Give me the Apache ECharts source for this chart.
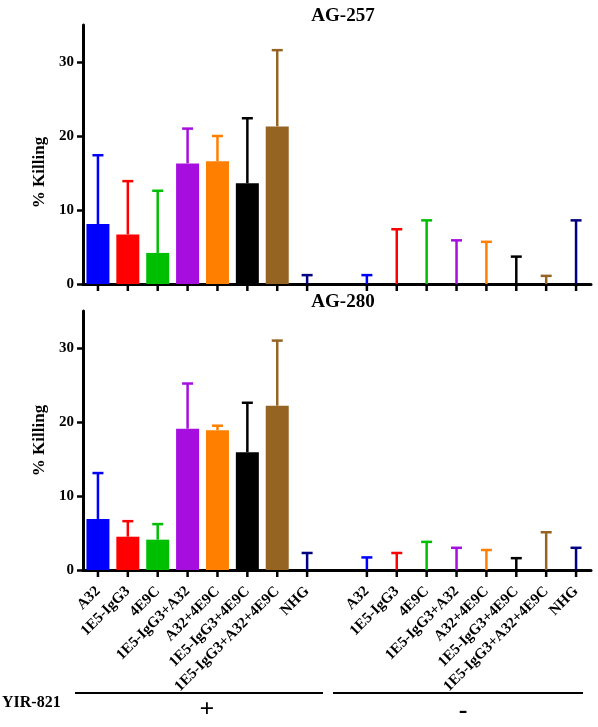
<!DOCTYPE html>
<html>
<head>
<meta charset="utf-8">
<script src="https://cdn.jsdelivr.net/npm/echarts@6/dist/echarts.min.js"></script>
<style>
html,body{margin:0;padding:0;background:#fff;}
#main{width:598px;height:727px;}
</style>
</head>
<body>
<div id="main"></div>
<script>
// ---- data ----
const categories = ['A32','1E5-IgG3','4E9C','1E5-IgG3+A32','A32+4E9C','1E5-IgG3+4E9C','1E5-IgG3+A32+4E9C','NHG'];
const groupLabels = ['+', '-'];
const groupTitle = 'YIR-821';
const panelTitles = ['AG-257', 'AG-280'];
const yTicks = [0, 10, 20, 30];
// order: YIR-821 "+" group (8) then "-" group (8)
const meanAG257 = [8.1, 6.7, 4.2, 16.3, 16.6, 13.6, 21.3, 0,   0, 0, 0, 0, 0, 0, 0, 0];
const sdAG257   = [9.3, 7.2, 8.4, 4.7, 3.4, 8.8, 10.3, 1.2,  1.2, 7.4, 8.6, 5.9, 5.7, 3.7, 1.1, 8.6];
const meanAG280 = [6.9, 4.5, 4.1, 19.1, 18.9, 15.9, 22.2, 0,   0, 0, 0, 0, 0, 0, 0, 0];
const sdAG280   = [6.2, 2.1, 2.1, 6.1, 0.6, 6.7, 8.8, 2.3,   1.7, 2.3, 3.8, 3.0, 2.7, 1.6, 5.1, 3.0];
const colors = ['#0000FF','#FF0000','#00BF00','#A60EE0','#FF8000','#000000','#966422','#000080'];

// ---- build ----
const FONT = '"Liberation Serif", "Times New Roman", serif';
const axisCats = [...categories, '', ...categories];
function toAxis(arr){ return [...arr.slice(0,8), null, ...arr.slice(8)]; }
function colorAt(i){ return i < 8 ? colors[i] : (i > 8 ? colors[i-9] : '#000'); }

function barData(mean){
  return toAxis(mean).map((v,i)=> v === null ? null : {value:v, itemStyle:{color:colorAt(i)}});
}
function errData(mean, sd){
  const m = toAxis(mean), s = toAxis(sd), out = [];
  m.forEach((v,i)=>{ if(v !== null) out.push({value:[i, v, v + s[i]], itemStyle:{color:colorAt(i)}}); });
  return out;
}
function renderErr(params, api){
  const x = api.value(0), m = api.value(1), t = api.value(2);
  const p0 = api.coord([x, m]), p1 = api.coord([x, t]), pa = api.coord([x, 0]);
  const c = api.visual('color');
  return {type:'group', children:[
    // category tick below the axis
    {type:'line', shape:{x1:pa[0], y1:pa[1], x2:pa[0], y2:pa[1]+7}, style:{stroke:'#000', lineWidth:2.5}},
    {type:'line', shape:{x1:p0[0], y1:p0[1], x2:p1[0], y2:p1[1]}, style:{stroke:c, lineWidth:2.5}},
    {type:'line', shape:{x1:p1[0]-5.5, y1:p1[1], x2:p1[0]+5.5, y2:p1[1]}, style:{stroke:c, lineWidth:2.5}}
  ]};
}

const gridL = 83, gridW = 508, gridH = 259;
const grids = [
  {left:gridL, top:25, width:gridW, height:gridH},
  {left:gridL, top:311, width:gridW, height:gridH}
];
function xAxisCfg(gi, showLabels){
  return {
    type:'category', gridIndex:gi, data:axisCats,
    axisLine:{lineStyle:{color:'#000', width:3}},
    axisTick:{show:false},
    axisLabel:{show:showLabels, interval:0, rotate:45, margin:19, color:'#000',
      fontFamily:FONT, fontWeight:'bold', fontSize:15}
  };
}
function yAxisCfg(gi, namePad){
  return {
    type:'value', gridIndex:gi, min:0, max:35, interval:10,
    name:'% Killing', nameLocation:'middle', nameGap:33, nameRotate:90,
    nameTextStyle:{color:'#000', fontFamily:FONT, fontWeight:'bold', fontSize:17, padding:namePad},
    axisLine:{show:true, lineStyle:{color:'#000', width:3}},
    axisTick:{show:true, length:6, lineStyle:{color:'#000', width:2.5}, customValues:yTicks},
    axisLabel:{color:'#000', fontFamily:FONT, fontWeight:'bold', fontSize:15, margin:9, customValues:yTicks},
    splitLine:{show:false}
  };
}

const option = {
  animation:false,
  backgroundColor:'#fff',
  title:[
    {text:panelTitles[0], left:338, top:2, textAlign:'center',
     textStyle:{fontFamily:FONT, fontWeight:'bold', fontSize:19, color:'#000'}},
    {text:panelTitles[1], left:338, top:288, textAlign:'center',
     textStyle:{fontFamily:FONT, fontWeight:'bold', fontSize:19, color:'#000'}}
  ],
  grid:grids,
  xAxis:[xAxisCfg(0,false), xAxisCfg(1,true)],
  yAxis:[yAxisCfg(0,[0,36,0,0]), yAxisCfg(1,0)],
  series:[
    {type:'bar', xAxisIndex:0, yAxisIndex:0, barWidth:23, data:barData(meanAG257), z:2},
    {type:'custom', xAxisIndex:0, yAxisIndex:0, renderItem:renderErr, clip:false, data:errData(meanAG257, sdAG257), z:3},
    {type:'bar', xAxisIndex:1, yAxisIndex:1, barWidth:23, data:barData(meanAG280), z:2},
    {type:'custom', xAxisIndex:1, yAxisIndex:1, renderItem:renderErr, clip:false, data:errData(meanAG280, sdAG280), z:3}
  ],
  graphic:[
    {type:'line', shape:{x1:75, y1:693, x2:323, y2:693}, style:{stroke:'#000', lineWidth:1.8}},
    {type:'line', shape:{x1:333, y1:693, x2:583, y2:693}, style:{stroke:'#000', lineWidth:1.8}},
    {type:'text', left:2, top:695, style:{text:groupTitle, font:'bold 16px ' + FONT, fill:'#000'}},
    {type:'text', x:207, y:710, style:{text:groupLabels[0], font:'bold 26px ' + FONT, fill:'#000', align:'center', verticalAlign:'middle'}},
    {type:'text', x:463, y:711, style:{text:groupLabels[1], font:'bold 26px ' + FONT, fill:'#000', align:'center', verticalAlign:'middle'}}
  ]
};
const chart = echarts.init(document.getElementById('main'), null, {renderer:'canvas'});
chart.setOption(option);
</script>
</body>
</html>
